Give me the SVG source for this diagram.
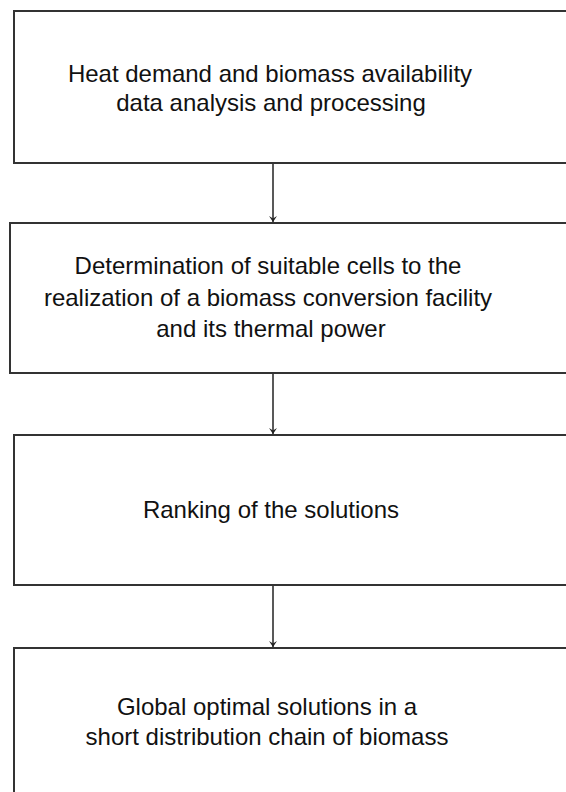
<svg xmlns="http://www.w3.org/2000/svg" width="566" height="792" viewBox="0 0 566 792">
<style>
.box{fill:#fff;stroke:#333;stroke-width:2}
.t{font-family:"Liberation Sans",Arial,sans-serif;font-size:24px;fill:#111;text-anchor:middle}
.c{stroke:#222;stroke-width:1.5;fill:none;marker-end:url(#ah)}
</style>
<defs>
<marker id="ah" markerWidth="10" markerHeight="10" refX="8" refY="5" orient="auto" markerUnits="userSpaceOnUse">
<path d="M2,1 L8,5 L2,9 L4.5,5 Z" fill="#222"/>
</marker>
</defs>
<rect width="566" height="792" fill="#fff"/>
<g id="n1">
<rect class="box" x="14" y="11" width="570" height="152"/>
<text class="t" x="270" y="82">Heat demand and biomass availability</text>
<text class="t" x="271" y="111">data analysis and processing</text>
</g>
<g id="n2">
<rect class="box" x="10" y="223" width="574" height="150"/>
<text class="t" x="268" y="274">Determination of suitable cells to the</text>
<text class="t" x="268" y="306">realization of a biomass conversion facility</text>
<text class="t" x="271" y="337">and its thermal power</text>
</g>
<g id="n3">
<rect class="box" x="14" y="435" width="570" height="150"/>
<text class="t" x="271" y="518">Ranking of the solutions</text>
</g>
<g id="n4">
<rect class="box" x="14" y="648" width="570" height="160"/>
<text class="t" x="267" y="715">Global optimal solutions in a</text>
<text class="t" x="267" y="745">short distribution chain of biomass</text>
</g>
<g id="connectors">
<path class="c" d="M273,164 V222"/>
<path class="c" d="M273,374 V434"/>
<path class="c" d="M273,586 V647"/>
</g>
</svg>
